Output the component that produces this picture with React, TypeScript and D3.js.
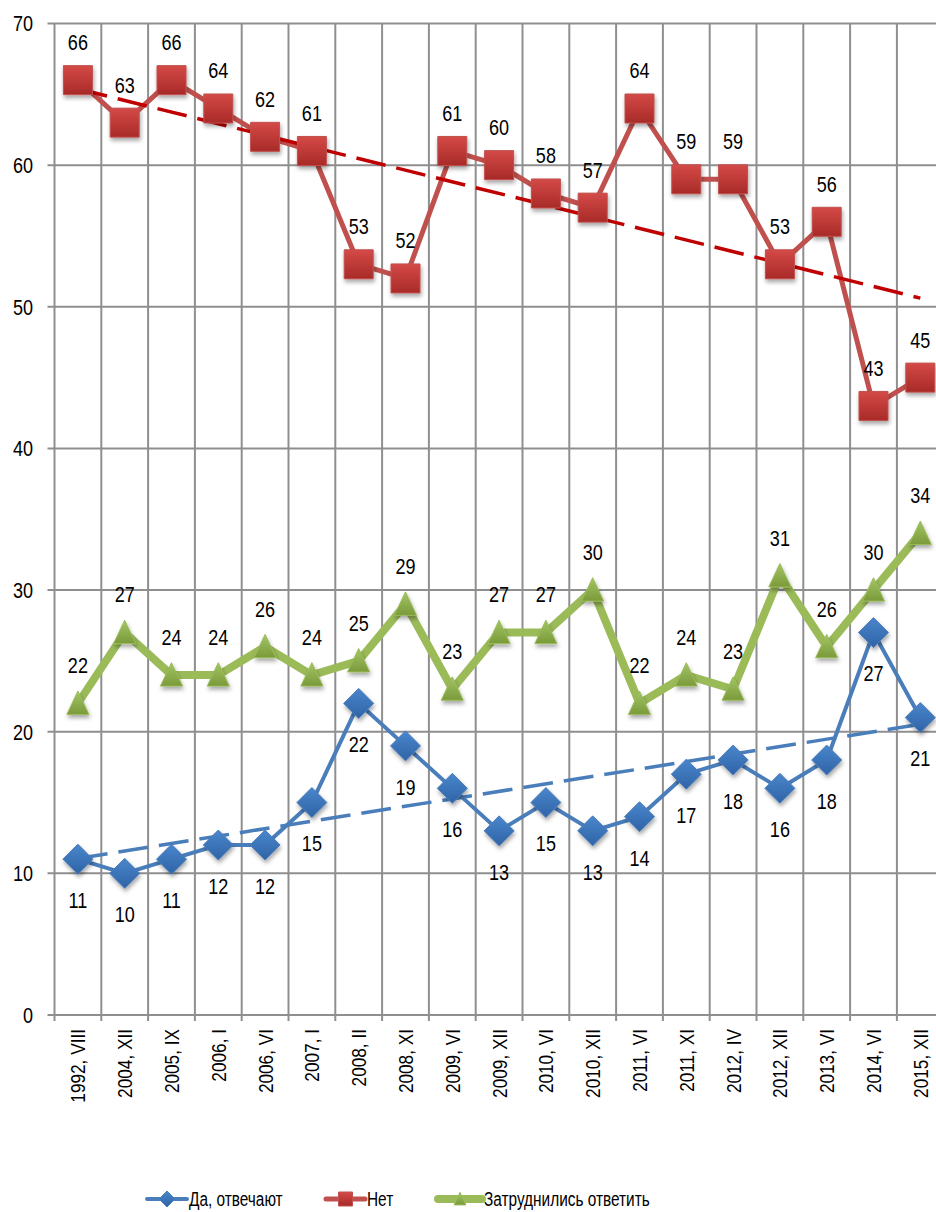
import React, { useEffect, useRef } from "react";
import * as d3 from "d3";

const categories = [
  "1992, VIII", "2004, XII", "2005, IX", "2006, I", "2006, VI", "2007, I",
  "2008, II", "2008, XI", "2009, VI", "2009, XII", "2010, VI", "2010, XII",
  "2011, VI", "2011, XI", "2012, IV", "2012, XII", "2013, VI", "2014, VI",
  "2015, XII",
];
const yesValues = [11, 10, 11, 12, 12, 15, 22, 19, 16, 13, 15, 13, 14, 17, 18, 16, 18, 27, 21];
const noValues = [66, 63, 66, 64, 62, 61, 53, 52, 61, 60, 58, 57, 64, 59, 59, 53, 56, 43, 45];
const hardValues = [22, 27, 24, 24, 26, 24, 25, 29, 23, 27, 27, 30, 22, 24, 23, 31, 26, 30, 34];
const yTicks = [0, 10, 20, 30, 40, 50, 60, 70];
const seriesNames = ["Да, отвечают", "Нет", "Затруднились ответить"];

const FONT = "'Liberation Sans', Arial, sans-serif";
const NARROW = 0.82; // no Arial Narrow here, so squeeze the glyphs

// linear trend like Excel's
function trend(values) {
  const n = values.length;
  const mx = (n - 1) / 2;
  const my = d3.mean(values);
  let sxy = 0;
  let sxx = 0;
  values.forEach((v, i) => {
    sxy += (i - mx) * (v - my);
    sxx += (i - mx) * (i - mx);
  });
  const k = sxy / sxx;
  return [my - k * mx, my + k * (n - 1 - mx)];
}

const App = () => {
  const ref = useRef(null);

  useEffect(() => {
    const width = 936;
    const height = 1212;
    const left = 54.5;
    const top = 23.5;
    const bottom = 1015;
    const step = 46.8;

    const svg = d3.select(ref.current).attr("width", width).attr("height", height);

    const defs = svg.append("defs");
    const grad = (id, c1, c2) => {
      const g = defs.append("linearGradient").attr("id", id).attr("x1", 0).attr("y1", 0).attr("x2", 0).attr("y2", 1);
      g.append("stop").attr("offset", "0%").attr("stop-color", c1);
      g.append("stop").attr("offset", "100%").attr("stop-color", c2);
    };
    grad("gRed", "#d44a47", "#a82a28");
    grad("gBlue", "#4a86cc", "#2f63a6");
    grad("gGreen", "#a3c565", "#7a9a3a");
    const f = defs.append("filter").attr("id", "shadow").attr("x", "-50%").attr("y", "-50%").attr("width", "200%").attr("height", "200%");
    f.append("feDropShadow").attr("dx", 1).attr("dy", 3).attr("stdDeviation", 2).attr("flood-color", "#000").attr("flood-opacity", 0.35);

    const x = d3.scaleBand().domain(categories).range([left, left + step * categories.length]);
    const y = d3.scaleLinear().domain([0, 70]).range([bottom, top]);
    const cx = (i) => x(categories[i]) + x.bandwidth() / 2;

    // grid
    const grid = svg.append("g").attr("stroke", "#8f8f8f").attr("stroke-width", 2);
    yTicks.forEach((t) => {
      grid.append("line").attr("x1", left - 7).attr("x2", width).attr("y1", y(t)).attr("y2", y(t));
    });
    d3.range(categories.length + 1).forEach((i) => {
      const gx = left + i * step;
      grid.append("line").attr("x1", gx).attr("x2", gx).attr("y1", top).attr("y2", bottom + 6);
    });

    // y labels
    svg
      .append("g")
      .selectAll("text")
      .data(yTicks)
      .enter()
      .append("text")
      .attr("transform", (d) => `translate(33, ${y(d)}) scale(${NARROW}, 1)`)
      .attr("dy", "0.36em")
      .attr("text-anchor", "end")
      .style("font-family", FONT)
      .style("font-size", "22px")
      .text((d) => d);

    // x labels
    svg
      .append("g")
      .selectAll("text")
      .data(categories)
      .enter()
      .append("text")
      .attr("transform", (d, i) => `translate(${cx(i)}, 1029) rotate(-90) scale(${NARROW}, 1)`)
      .attr("dy", "0.36em")
      .attr("text-anchor", "end")
      .style("font-family", FONT)
      .style("font-size", "21px")
      .text((d) => d);

    const line = d3
      .line()
      .x((d, i) => cx(i))
      .y((d) => y(d));

    const series = [
      { values: yesValues, color: "#4a7ebb", width: 4, fill: "url(#gBlue)", shape: "diamond", below: true },
      { values: noValues, color: "#c0504d", width: 5, fill: "url(#gRed)", shape: "square", below: false },
      { values: hardValues, color: "#9bbb59", width: 8, fill: "url(#gGreen)", shape: "triangle", below: false },
    ];

    series.forEach((s) => {
      svg
        .append("path")
        .datum(s.values)
        .attr("d", line)
        .attr("fill", "none")
        .attr("stroke", s.color)
        .attr("stroke-width", s.width)
        .attr("stroke-linejoin", "miter");
    });

    // trend lines
    const trends = [
      { values: noValues, color: "#c00000" },
      { values: yesValues, color: "#4a7ebb" },
    ];
    trends.forEach((t) => {
      const [a, b] = trend(t.values);
      svg
        .append("line")
        .attr("x1", cx(0))
        .attr("y1", y(a))
        .attr("x2", cx(categories.length - 1))
        .attr("y2", y(b))
        .attr("stroke", t.color)
        .attr("stroke-width", 3.5)
        .attr("stroke-dasharray", "30 11");
    });

    const shapePath = (shape, size) => {
      const h = size / 2;
      if (shape === "square") return `M${-h},${-h}H${h}V${h}H${-h}Z`;
      if (shape === "diamond") return `M0,${-h}L${h},0L0,${h}L${-h},0Z`;
      return `M0,${-h * 0.95}L${h * 0.85},${h * 0.85}L${-h * 0.85},${h * 0.85}Z`;
    };
    const sizes = { square: 29, diamond: 30, triangle: 26 };

    series.forEach((s) => {
      svg
        .append("g")
        .selectAll("path")
        .data(s.values)
        .enter()
        .append("path")
        .attr("transform", (d, i) => `translate(${cx(i)}, ${y(d)})`)
        .attr("d", shapePath(s.shape, sizes[s.shape]))
        .attr("fill", s.fill)
        .attr("stroke", s.color)
        .attr("stroke-width", 1)
        .attr("filter", "url(#shadow)");
    });

    // data labels
    series.forEach((s) => {
      svg
        .append("g")
        .selectAll("text")
        .data(s.values)
        .enter()
        .append("text")
        .attr("transform", (d, i) => `translate(${cx(i)}, ${y(d) + (s.below ? 41 : -38)}) scale(${NARROW}, 1)`)
        .attr("dy", "0.36em")
        .attr("text-anchor", "middle")
        .style("font-family", FONT)
        .style("font-size", "22px")
        .text((d) => d);
    });

    // legend
    const legendX = [147, 326, 438];
    const legendW = [40, 39, 44];
    const legendSize = { square: 14, diamond: 16, triangle: 14 };
    const ly = 1199;
    series.forEach((s, i) => {
      const g = svg.append("g");
      g.append("line")
        .attr("x1", legendX[i])
        .attr("x2", legendX[i] + legendW[i])
        .attr("y1", ly)
        .attr("y2", ly)
        .attr("stroke", s.color)
        .attr("stroke-width", s.width)
        .attr("stroke-linecap", "round");
      g.append("path")
        .attr("transform", `translate(${legendX[i] + legendW[i] / 2}, ${ly})`)
        .attr("d", shapePath(s.shape, legendSize[s.shape]))
        .attr("fill", s.fill)
        .attr("stroke", s.color)
        .attr("stroke-width", 1);
      g.append("text")
        .attr("transform", `translate(${legendX[i] + legendW[i] + 2}, ${ly}) scale(0.77, 1)`)
        .attr("dy", "0.36em")
        .style("font-family", FONT)
        .style("font-size", "20px")
        .text(seriesNames[i]);
    });

    return () => {
      d3.select(ref.current).selectAll("*").remove();
    };
  }, []);

  return (
    <div style={{ position: "absolute", left: 0, top: 0 }}>
      <svg ref={ref} style={{ display: "block", background: "#fff" }}></svg>
    </div>
  );
};

export default App;
